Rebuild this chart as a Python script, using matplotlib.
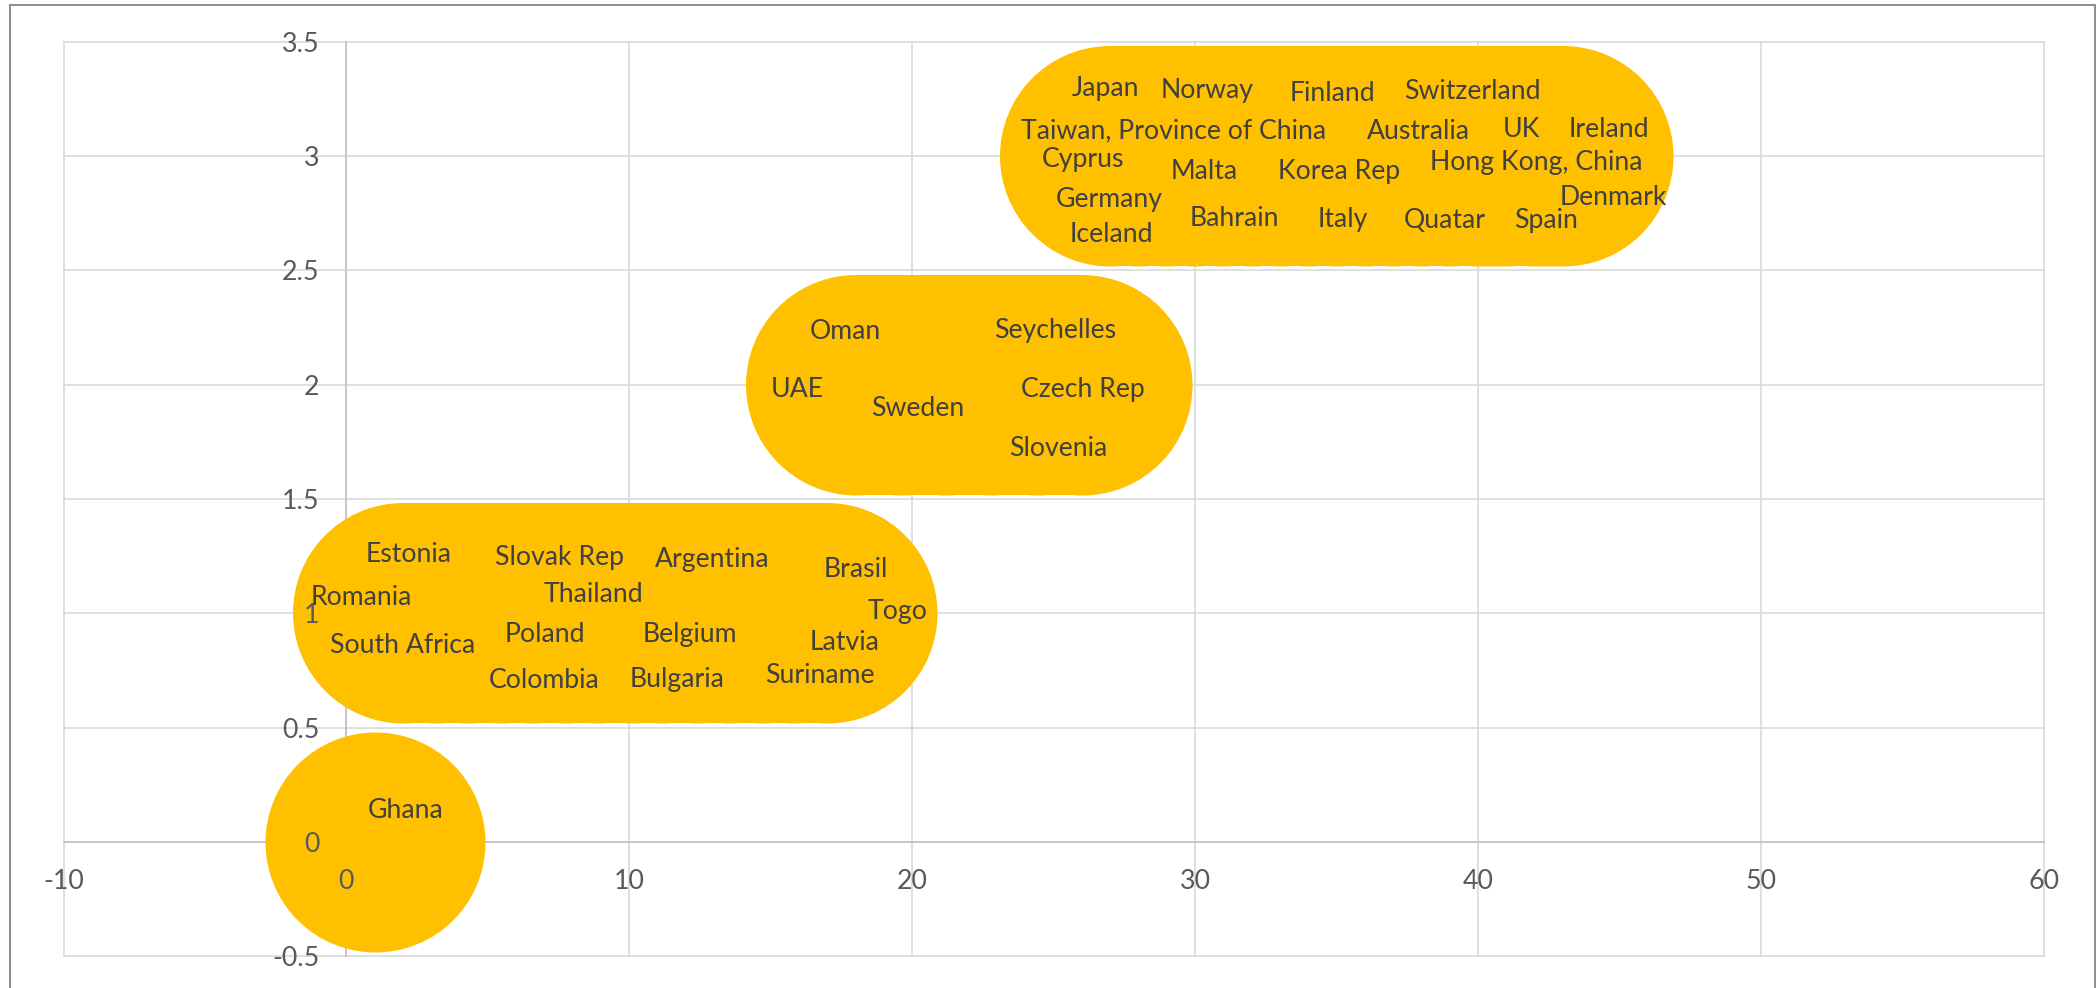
import matplotlib
matplotlib.use("Agg")
import matplotlib.pyplot as plt
from matplotlib.patches import Rectangle
from matplotlib.ticker import FixedLocator, FuncFormatter

# ---------------- data ----------------
countries = [
    "Ghana",
    "Romania", "South Africa", "Estonia", "Colombia", "Poland", "Slovak Rep",
    "Thailand", "Bulgaria", "Belgium", "Argentina", "Suriname", "Latvia",
    "Brasil", "Togo",
    "UAE", "Oman", "Sweden", "Seychelles", "Slovenia", "Czech Rep",
    "Cyprus", "Japan", "Germany", "Iceland", "Taiwan, Province of China",
    "Malta", "Norway", "Bahrain", "Finland", "Korea Rep", "Italy",
    "Australia", "Quatar", "Switzerland", "UK", "Hong Kong, China", "Spain",
    "Ireland", "Denmark",
]
bubble_x = [
    1,
    2, 3.2, 4.3, 5.5, 6.6, 7.8, 8.9, 10.1, 11.2, 12.4, 13.5, 14.7, 15.8, 17,
    18, 19.6, 21.2, 22.8, 24.4, 26,
    27, 28, 29, 30, 31, 32, 33, 34, 35, 36, 37, 38, 39, 40, 40.5, 41, 42, 42.5, 43,
]
bubble_y = [0] + [1] * 14 + [2] * 6 + [3] * 19
label_x = [
    2.08,
    0.54, 2.00, 2.19, 6.98, 7.03, 7.52, 8.75, 11.70, 12.13, 12.93, 16.73,
    17.62, 18.02, 19.48,
    15.95, 17.64, 20.20, 25.05, 25.15, 26.05,
    26.03, 26.84, 26.98, 27.03, 29.23, 30.31, 30.44, 31.38, 34.85, 35.09,
    35.23, 37.90, 38.83, 39.79, 41.52, 42.05, 42.40, 44.63, 44.78,
]
label_y = [
    0.146,
    1.080, 0.868, 1.269, 0.715, 0.919, 1.255, 1.094, 0.722, 0.919, 1.248,
    0.740, 0.883, 1.204, 1.020,
    1.991, 2.245, 1.909, 2.248, 1.731, 1.991,
    2.995, 3.307, 2.823, 2.668, 3.122, 2.944, 3.297, 2.740, 3.284, 2.944,
    2.733, 3.119, 2.728, 3.296, 3.129, 2.982, 2.728, 3.129, 2.830,
]
x_ticks = [-10, 0, 10, 20, 30, 40, 50, 60]
y_ticks = [-0.5, 0, 0.5, 1, 1.5, 2, 2.5, 3, 3.5]

# ---------------- style ----------------
W, H, DPI = 2097, 988, 100
FONT = ["Lato", "DejaVu Sans"]
plt.rcParams["font.family"] = FONT
BUBBLE = "#FFC000"

fig = plt.figure(figsize=(W / DPI, H / DPI), dpi=DPI)
left, right, top, bottom = 63.5, 2043.8, 42.0, 956.0
ax = fig.add_axes([left / W, (H - bottom) / H, (right - left) / W, (bottom - top) / H])
ax.set_xlim(x_ticks[0], x_ticks[-1])
ax.set_ylim(y_ticks[0], y_ticks[-1])

grid_color = "#d9d9d9"
for xv in x_ticks:
    ax.axvline(xv, color=grid_color, lw=1.2, zorder=0.3, clip_on=False)
for yv in y_ticks:
    ax.axhline(yv, color=grid_color, lw=1.2, zorder=0.3, clip_on=False)

for s in ["top", "right"]:
    ax.spines[s].set_visible(False)
for s in ["left", "bottom"]:
    ax.spines[s].set_position(("data", 0))
    ax.spines[s].set_color("#c4c4c4")
    ax.spines[s].set_linewidth(1.3)
    ax.spines[s].set_zorder(0.4)

ax.xaxis.set_major_locator(FixedLocator(x_ticks))
ax.yaxis.set_major_locator(FixedLocator(y_ticks))
fmt = FuncFormatter(lambda v, p: f"{v:g}")
ax.xaxis.set_major_formatter(fmt)
ax.yaxis.set_major_formatter(fmt)
ax.tick_params(axis="both", length=0, labelsize=19.3, labelcolor="#595959")
ax.tick_params(axis="y", pad=19.5)
ax.tick_params(axis="x", pad=19.5)

# bubbles (overlapping bubbles of one level merge into one rounded band)
diam_px = 220
diam_pt = diam_px * 72 / DPI
ax.scatter(bubble_x, bubble_y, s=diam_pt ** 2, color=BUBBLE, linewidths=0,
           zorder=1, clip_on=False)
for level in sorted(set(bubble_y)):
    xs = [bx for bx, by in zip(bubble_x, bubble_y) if by == level]
    ys = [level] * len(xs)
    ax.plot(xs, ys, color=BUBBLE, lw=diam_pt, solid_capstyle="round",
            zorder=1, clip_on=False)

# labels
for name, lx, ly in zip(countries, label_x, label_y):
    ax.text(lx, ly, name, ha="center", va="center_baseline", fontsize=19.2,
            color="#404040", zorder=3)

# outer chart border
fig.patches.append(Rectangle((9.5, -20), 2095 - 9.5, (H - 4.5) + 20,
                             transform=None, fill=False, edgecolor="#8c8c8c",
                             linewidth=1.4))

fig.savefig("out.png", dpi=DPI, facecolor="white")
